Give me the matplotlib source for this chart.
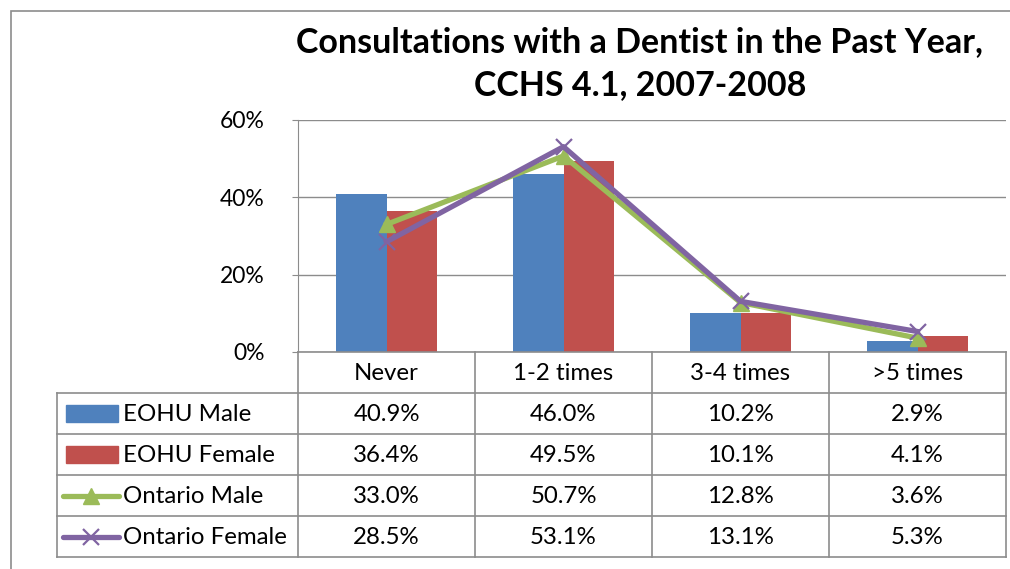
import matplotlib
matplotlib.use("Agg")
import matplotlib.pyplot as plt
from matplotlib.patches import Rectangle
from matplotlib.lines import Line2D

# Data
categories = ["Never", "1-2 times", "3-4 times", ">5 times"]
series_names = ["EOHU Male", "EOHU Female", "Ontario Male", "Ontario Female"]
eohu_male = [40.9, 46.0, 10.2, 2.9]
eohu_female = [36.4, 49.5, 10.1, 4.1]
ontario_male = [33.0, 50.7, 12.8, 3.6]
ontario_female = [28.5, 53.1, 13.1, 5.3]
yticks = [0, 20, 40, 60]

BLUE = "#4F81BD"
RED = "#C0504D"
GREEN = "#9BBB59"
PURPLE = "#8064A2"
GRID = "#8C8C8C"
FONT = "Lato"

W, H = 1010, 569
fig = plt.figure(figsize=(W / 100, H / 100), dpi=100)
plt.rcParams["font.family"] = [FONT, "DejaVu Sans"]


def rect(x0, y0, x1, y1):
    # pixel box (top-left origin) -> figure fraction
    return [x0 / W, 1 - y1 / H, (x1 - x0) / W, (y1 - y0) / H]


# outer chart frame
fig.patches.append(Rectangle((11 / W, -0.05), 1.1, 1 - 11 / H + 0.05, transform=fig.transFigure,
                             fill=False, edgecolor="#8C8C8C", linewidth=1.2))

# main plot area
ax = fig.add_axes(rect(298, 120, 1006, 352))
n = len(categories)
x = [i + 0.5 for i in range(n)]
bw = 0.285
LW = 3.8
ax.bar([v - bw / 2 for v in x], eohu_male, width=bw, color=BLUE, zorder=2)
ax.bar([v + bw / 2 for v in x], eohu_female, width=bw, color=RED, zorder=2)
ax.plot(x, ontario_male, color=GREEN, lw=LW, marker="^", ms=12, zorder=3)
ax.plot(x, ontario_female, color=PURPLE, lw=LW, marker="x", ms=12, mew=1.6, zorder=4)

ax.set_xlim(0, n)
ax.set_ylim(0, 60)
ax.set_yticks(yticks)
ax.set_yticklabels([f"{t}%" for t in yticks], fontsize=16.5)
ax.set_xticks([])
ax.yaxis.grid(True, color=GRID, lw=1.0, zorder=0)
ax.tick_params(axis="y", length=4, color=GRID, pad=20)
for s in ["top", "right", "bottom"]:
    ax.spines[s].set_visible(False)
ax.spines["left"].set_color(GRID)

# data table
tx0 = -241 / 177
tab = fig.add_axes(rect(57, 352, 1006, 557))
tab.set_xlim(tx0, n)
tab.set_ylim(5, 0)
tab.axis("off")
lc = "#8C8C8C"
for i in range(n + 1):
    tab.plot([i, i], [0, 5], color=lc, lw=1.2, clip_on=False)
tab.plot([tx0, tx0], [1, 5], color=lc, lw=1.2, clip_on=False)
tab.plot([0, n], [0, 0], color=lc, lw=1.2, clip_on=False)
for r in range(1, 6):
    tab.plot([tx0, n], [r, r], color=lc, lw=1.2, clip_on=False)

fs = 17.3
for i, c in enumerate(categories):
    tab.text(i + 0.5, 0.52, c, ha="center", va="center", fontsize=fs)

values = [eohu_male, eohu_female, ontario_male, ontario_female]
for r, vals in enumerate(values):
    for i, v in enumerate(vals):
        tab.text(i + 0.5, r + 1.52, f"{v:.1f}%", ha="center", va="center", fontsize=fs)

# legend keys
kx0 = tx0 + 9 / 177
kx1 = tx0 + 61 / 177
for r, col in enumerate([BLUE, RED]):
    tab.add_patch(Rectangle((kx0, r + 1.29), kx1 - kx0, 0.42, color=col))
lx0 = tx0 + 6 / 177
lx1 = tx0 + 62 / 177
tab.add_line(Line2D([lx0, lx1], [3.5, 3.5], color=GREEN, lw=LW, solid_capstyle="round"))
tab.add_line(Line2D([(lx0 + lx1) / 2], [3.5], color=GREEN, marker="^", ms=12))
tab.add_line(Line2D([lx0, lx1], [4.5, 4.5], color=PURPLE, lw=LW, solid_capstyle="round"))
tab.add_line(Line2D([(lx0 + lx1) / 2], [4.5], color=PURPLE, marker="x", ms=12, mew=1.6))
for r, name in enumerate(series_names):
    tab.text(tx0 + 66 / 177, r + 1.52, name, ha="left", va="center", fontsize=fs)

fig.text(640 / W, 1 - 42 / H, "Consultations with a Dentist in the Past Year,", ha="center",
         va="center", fontsize=24.5, fontweight="bold")
fig.text(640 / W, 1 - 85 / H, "CCHS 4.1, 2007-2008", ha="center", va="center",
         fontsize=24.5, fontweight="bold")

fig.savefig("out.png", dpi=100)
